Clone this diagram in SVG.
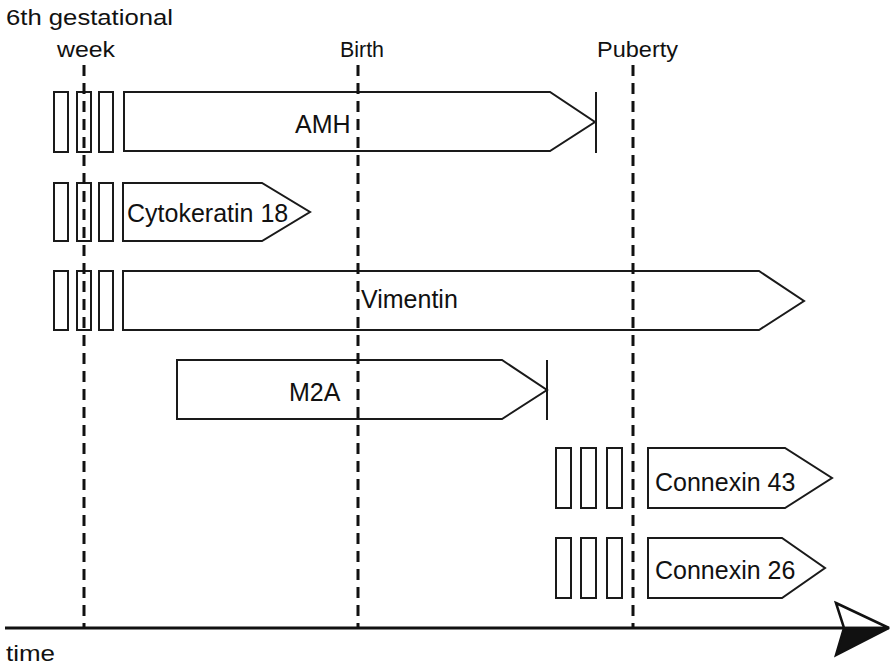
<svg xmlns="http://www.w3.org/2000/svg" width="892" height="667" viewBox="0 0 892 667">
<style>
.shape{fill:#fff;stroke:#1a1a1a;stroke-width:2;stroke-linejoin:miter}
.bar{stroke:#1a1a1a;stroke-width:2}
.dash{stroke:#111;stroke-width:3;stroke-dasharray:11 7;fill:none}
.lbl{font-family:"Liberation Sans",Arial,sans-serif;font-size:25px;fill:#111}
.ms{font-family:"Liberation Sans",Arial,sans-serif;font-size:22px;fill:#111}
</style>
<rect width="892" height="667" fill="#fff"/>

<g id="amh">
  <rect class="shape" x="54" y="92" width="14" height="60"/>
  <rect class="shape" x="77" y="92" width="14" height="60"/>
  <rect class="shape" x="99" y="92" width="14" height="60"/>
  <polygon class="shape" points="124,92 550,92 595,122 550,151 124,151"/>
  <line class="bar" x1="596" y1="92" x2="596" y2="153"/>
  <text class="lbl" x="295" y="133">AMH</text>
</g>

<g id="cytokeratin18">
  <rect class="shape" x="54" y="183" width="14" height="58"/>
  <rect class="shape" x="77" y="183" width="14" height="58"/>
  <rect class="shape" x="99" y="183" width="14" height="58"/>
  <polygon class="shape" points="123,183 262,183 310,212 262,241 123,241"/>
  <text class="lbl" x="127" y="222">Cytokeratin 18</text>
</g>

<g id="vimentin">
  <rect class="shape" x="54" y="271" width="14" height="59"/>
  <rect class="shape" x="77" y="271" width="14" height="59"/>
  <rect class="shape" x="99" y="271" width="14" height="59"/>
  <polygon class="shape" points="123,271 759,271 804,301 759,330 123,330"/>
  <text class="lbl" x="361" y="308">Vimentin</text>
</g>

<g id="m2a">
  <polygon class="shape" points="177,360 502,360 547,390 502,419 177,419"/>
  <line class="bar" x1="547" y1="360" x2="547" y2="420"/>
  <text class="lbl" x="289" y="401">M2A</text>
</g>

<g id="connexin43">
  <rect class="shape" x="556" y="448" width="15" height="60"/>
  <rect class="shape" x="581" y="448" width="15" height="60"/>
  <rect class="shape" x="607" y="448" width="15" height="60"/>
  <polygon class="shape" points="648,448 785,448 832,478 785,508 648,508"/>
  <text class="lbl" x="655" y="491">Connexin 43</text>
</g>

<g id="connexin26">
  <rect class="shape" x="556" y="538" width="15" height="60"/>
  <rect class="shape" x="581" y="538" width="15" height="60"/>
  <rect class="shape" x="607" y="538" width="15" height="60"/>
  <polygon class="shape" points="648,538 782,538 825,568 782,598 648,598"/>
  <text class="lbl" x="655" y="579">Connexin 26</text>
</g>

<g id="connectors">
  <line class="dash" x1="84" y1="65" x2="84" y2="628"/>
  <line class="dash" x1="358" y1="65" x2="358" y2="628"/>
  <line class="dash" x1="633" y1="65" x2="633" y2="628"/>
  <line x1="5" y1="628" x2="846" y2="628" stroke="#111" stroke-width="3"/>
  <polygon points="836,603 889,628 844,628" fill="#fff" stroke="#111" stroke-width="2.5" stroke-linejoin="miter"/>
  <polygon points="844,628 889,628 836,655" fill="#111" stroke="#111" stroke-width="2.5" stroke-linejoin="miter"/>
</g>

<g id="milestones">
  <text class="ms" x="6" y="25" textLength="167" lengthAdjust="spacingAndGlyphs">6th gestational</text>
  <text class="ms" x="57" y="57" textLength="58" lengthAdjust="spacingAndGlyphs">week</text>
  <text class="ms" x="340" y="57" textLength="44" lengthAdjust="spacingAndGlyphs">Birth</text>
  <text class="ms" x="597" y="57" textLength="81" lengthAdjust="spacingAndGlyphs">Puberty</text>
  <text class="ms" x="6" y="661" textLength="49" lengthAdjust="spacingAndGlyphs">time</text>
</g>
</svg>
